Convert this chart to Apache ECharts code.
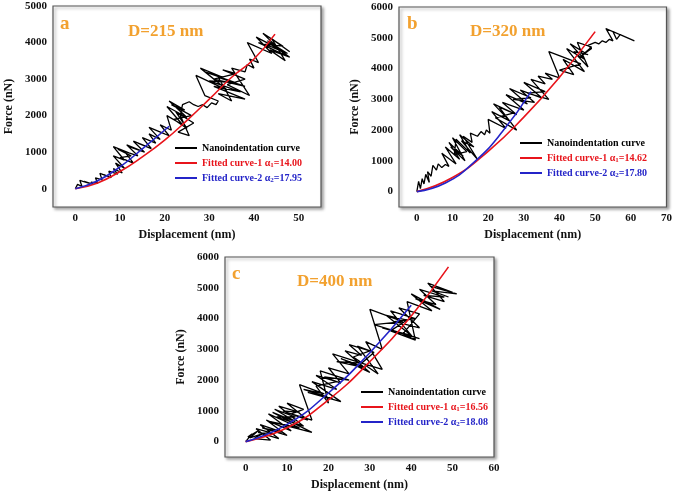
<!DOCTYPE html>
<html>
<head>
<meta charset="utf-8">
<script src="https://cdn.jsdelivr.net/npm/echarts@6/dist/echarts.min.js"></script>
<style>
html,body{margin:0;padding:0;background:#fff;}
#chart{width:675px;height:493px;}
</style>
</head>
<body>
<div id="chart"></div>
<script>
// ---------- Data ----------
// Panel a (D=215 nm)
const aNanoX = [0,0.5,1.5,1,3,2,4,3.5,5,
  4.5,6,5.5,7.5,6.5,8,7.5,9.5,8.5,
  10.5,9,11,8.5,11,8.5,12,9.5,12.5,10,13,11,14,11.5,14.5,12,
  15.5,13,16,14,17,15,18,16.5,19,16.5,20,18,21,19,21.5,
  20.5,24,20.5,25,21,24.5,21.5,26,22,25,22.5,26.5,23,25.5,23.5,24,
  25.5,26.5,27.5,28.5,29.5,30.5,31.5,32,
  29,27,34,28,33,29,36,30,37,31,38,32,35,32,38,31,36,33,38,34,39,35,38,
  38.5,40,39,41,38.5,44,40.5,46,41,47,42,46.5,42.5,47.5,43,48,43.5,47,44,48];
const aNanoY = [0,120,60,230,150,200,120,180,150,
  300,240,420,330,380,300,480,400,550,
  430,700,560,900,780,1150,980,1080,900,850,700,1020,900,1200,1050,1150,
  1000,1300,1150,1250,1100,1400,1250,1500,1350,1680,1500,1600,1450,1750,1600,
  2000,1750,2250,1950,2400,2150,2300,2000,1900,1650,2100,1800,1550,1450,2000,2300,
  2380,2300,2250,2300,2220,2350,2300,2400,
  2550,3100,2700,3300,3050,3200,2900,2950,2650,2800,2450,2600,2400,3050,2800,3000,3150,3250,3000,2850,2550,3300,3200,
  3400,3300,3550,3450,4000,3700,4150,3800,4000,3650,4250,3900,3950,3700,4050,3600,3800,3500,4100,3750];
const aFit1X = [0,5,10,15,20,25,30,35,40,44.7];
const aFit1Y = [0,160,470,870,1330,1870,2450,3050,3550,4230];
const aFit2X = [0,5,10,15,21];
const aFit2Y = [0,220,600,1090,1710];

// Panel b (D=320 nm)
const bNanoX = [0,0.5,1,1.5,2,2.5,3.5,3,4,4.5,5.5,6,7,8,9,
  7,11,8,12,9,13,9.5,13.5,10,14,10.5,11,15,12,16,12.5,17,13,15.5,15,17,
  18,19,19.5,20.5,20,25,21,26,21.5,27,22,28,23,28,24,30,25,31,26,32,27,33,
  29,35,30,36,31,37,32,36,34,38,36,40,37,46,40,44,41,47,42,47,43,48,44,48,45,49,46,49,48,
  50,51,52,53,54,55,53,58,55,56,57,61];
const bNanoY = [0,330,100,420,250,560,300,650,500,850,700,900,780,880,820,
  1250,900,1450,1050,1600,1150,1450,1000,1750,1300,1200,1700,1250,1850,1450,1650,1050,1800,1600,1900,1800,
  1950,1850,2000,1900,2350,2050,2600,2300,2850,2550,2400,2000,2750,2500,2900,2650,3150,2850,3350,3050,3000,2900,
  3300,3050,3550,3250,3200,3000,3650,3500,3750,3650,3850,3700,4550,4150,3950,3800,4300,3900,4650,4300,4800,4450,4550,4050,4850,4700,4400,4650,4750,
  4850,4800,4900,4850,4950,4900,5300,5050,5200,4950,5100,4900];
const bFit1X = [0,10,20,30,40,50];
const bFit1Y = [0,460,1310,2420,3720,5200];
const bFit2X = [0,8,16,24,32];
const bFit2Y = [0,280,950,1950,3250];

// Panel c (D=400 nm)
const cNanoX = [0,1.5,0.5,3,1,4,2,6,2.5,7,3,8,3.5,9,4,10,5,11,5.5,13,6,16,6.5,12,7,12,7.5,14,8,13,9,15,10,14,11,16,
  13,19,14,21,15,23,16,22,17,22,17,20,18,25,19,23,20,25,21,28,22,29,23,30,24,28,25,30,26,32,27,31,28,33,29,33,
  30,38,31,42,33,40,34,39,35,41,35,41,36,42,37,42,38,41,39,45,40,47,41,46,42,48,43,48,44,50,44.5,51,45,49];
const cNanoY = [0,250,150,350,120,250,100,50,420,250,300,100,550,300,450,200,700,350,900,450,650,300,950,650,1050,800,800,500,1150,950,1000,700,1250,1050,900,700,
  1850,1550,1700,1400,1600,1300,1950,1700,2150,1950,1800,1250,2300,2000,2100,1900,2400,2200,2850,2550,2600,2400,2700,2250,2950,2800,3150,2950,2750,2200,3100,2900,2550,2350,3250,3000,
  4300,3900,3800,3350,3700,3450,4100,3950,3600,3300,4250,4000,3900,3700,4350,4150,3500,3300,4550,4250,4800,4300,4650,4450,4950,4700,4750,4550,5150,4850,5050,4800,4900,4700];
const cFit1X = [0,10,20,30,40,49];
const cFit1Y = [0,450,1360,2600,4080,5680];
const cFit2X = [0,10,20,30,40];
const cFit2Y = [0,560,1580,2890,4430];

// Tick labels
const aXTicks = [0,10,20,30,40,50];
const aYTicks = [0,1000,2000,3000,4000,5000];
const bXTicks = [0,10,20,30,40,50,60,70];
const bYTicks = [0,1000,2000,3000,4000,5000,6000];
const cXTicks = [0,10,20,30,40,50,60];
const cYTicks = [0,1000,2000,3000,4000,5000,6000];

// Legend texts
const nanoName = 'Nanoindentation curve';
const aFit1Name = 'Fitted curve-1 α1=14.00';
const aFit2Name = 'Fitted curve-2 α2=17.95';
const bFit1Name = 'Fitted curve-1 α1=14.62';
const bFit2Name = 'Fitted curve-2 α2=17.80';
const cFit1Name = 'Fitted curve-1 α1=16.56';
const cFit2Name = 'Fitted curve-2 α2=18.08';

const panelTitles = ['a','b','c'];
const panelLabels = ['D=215 nm','D=320 nm','D=400 nm'];

// ---------- Chart ----------
const FONT = '"Liberation Serif", "Times New Roman", serif';
const ORANGE = '#f2a12f';
const RED = '#e8141b';
const BLUE = '#2424c8';
const pairs = (xs, ys) => xs.map((x, i) => [x, ys[i]]);

const gridStyle = {
  show: true, backgroundColor: '#fff', borderColor: '#555', borderWidth: 1.2,
  shadowColor: 'rgba(0,0,0,0.35)', shadowBlur: 3, shadowOffsetX: 2, shadowOffsetY: 2
};
const grids = [
  Object.assign({left: 53, top: 6, width: 268, height: 201}, gridStyle),
  Object.assign({left: 399, top: 7, width: 268, height: 200}, gridStyle),
  Object.assign({left: 225, top: 257, width: 269, height: 200}, gridStyle)
];

const labelStyle = {fontFamily: FONT, fontWeight: 'bold', fontSize: 11, color: '#111', margin: 6,
  formatter: v => String(v)};

function xAx(idx, min, max, ticks) {
  return {
    type: 'value', gridIndex: idx, min: min, max: max,
    name: 'Displacement (nm)', nameLocation: 'middle', nameGap: 22,
    nameTextStyle: {fontFamily: FONT, fontWeight: 'bold', fontSize: 12, color: '#111'},
    axisLine: {show: false}, axisTick: {show: false}, splitLine: {show: false},
    axisLabel: Object.assign({customValues: ticks}, labelStyle)
  };
}
function yAx(idx, min, max, ticks, gap) {
  return {
    type: 'value', gridIndex: idx, min: min, max: max,
    name: 'Force (nN)', nameLocation: 'middle', nameGap: gap, nameRotate: 90,
    nameTextStyle: {fontFamily: FONT, fontWeight: 'bold', fontSize: 12, color: '#111'},
    axisLine: {show: false}, axisTick: {show: false}, splitLine: {show: false},
    axisLabel: Object.assign({customValues: ticks}, labelStyle)
  };
}

function lineSeries(name, data, idx, color, smooth) {
  return {
    name: name, type: 'line', xAxisIndex: idx, yAxisIndex: idx,
    data: data, showSymbol: false, symbol: 'none', smooth: smooth,
    lineStyle: {color: color, width: smooth ? 1.6 : 1.3}, itemStyle: {color: color},
    animation: false, z: smooth ? 3 : 2
  };
}

const richSub = {fontSize: 7, fontWeight: 'bold', fontFamily: FONT, padding: [5, 0, 0, 0]};
function legendFmt(name) {
  return name.replace(/α(\d)/, 'α{s|$1}');
}
function legend(left, top, f1, f2) {
  return {
    orient: 'vertical', left: left, top: top, itemWidth: 22, itemHeight: 2, itemGap: 3,
    icon: 'rect', padding: 0,
    formatter: legendFmt,
    textStyle: {fontFamily: FONT, fontWeight: 'bold', fontSize: 10, lineHeight: 12, rich: {s: richSub}},
    data: [
      {name: nanoName, textStyle: {color: '#000'}},
      {name: f1, textStyle: {color: RED}},
      {name: f2, textStyle: {color: BLUE}}
    ],
    selectedMode: false
  };
}

const titles = [];
const titlePos = [[60, 15], [407, 15], [232, 265]];
const labelPos = [[128, 23], [470, 23], [297, 273]];
for (let i = 0; i < 3; i++) {
  titles.push({text: panelTitles[i], left: titlePos[i][0], top: titlePos[i][1], padding: 0,
    textStyle: {fontFamily: FONT, fontWeight: 'bold', fontSize: 19, color: ORANGE}});
  titles.push({text: panelLabels[i], left: labelPos[i][0], top: labelPos[i][1], padding: 0,
    textStyle: {fontFamily: FONT, fontWeight: 'bold', fontSize: 17, color: ORANGE}});
}

const option = {
  backgroundColor: '#fff',
  animation: false,
  title: titles,
  grid: grids,
  xAxis: [xAx(0, -5, 55, aXTicks), xAx(1, -5, 70, bXTicks), xAx(2, -5, 60, cXTicks)],
  yAxis: [yAx(0, -500, 5000, aYTicks, 38), yAx(1, -500, 6000, bYTicks, 38), yAx(2, -500, 6000, cYTicks, 38)],
  legend: [
    legend(175, 142, aFit1Name, aFit2Name),
    legend(520, 137, bFit1Name, bFit2Name),
    legend(361, 386, cFit1Name, cFit2Name)
  ],
  series: [
    lineSeries(nanoName, pairs(aNanoX, aNanoY), 0, '#000', false),
    lineSeries(aFit1Name, pairs(aFit1X, aFit1Y), 0, RED, true),
    lineSeries(aFit2Name, pairs(aFit2X, aFit2Y), 0, BLUE, true),
    lineSeries(nanoName, pairs(bNanoX, bNanoY), 1, '#000', false),
    lineSeries(bFit1Name, pairs(bFit1X, bFit1Y), 1, RED, true),
    lineSeries(bFit2Name, pairs(bFit2X, bFit2Y), 1, BLUE, true),
    lineSeries(nanoName, pairs(cNanoX, cNanoY), 2, '#000', false),
    lineSeries(cFit1Name, pairs(cFit1X, cFit1Y), 2, RED, true),
    lineSeries(cFit2Name, pairs(cFit2X, cFit2Y), 2, BLUE, true)
  ]
};

const chart = echarts.init(document.getElementById('chart'), null, {renderer: 'canvas'});
chart.setOption(option);
</script>
</body>
</html>
